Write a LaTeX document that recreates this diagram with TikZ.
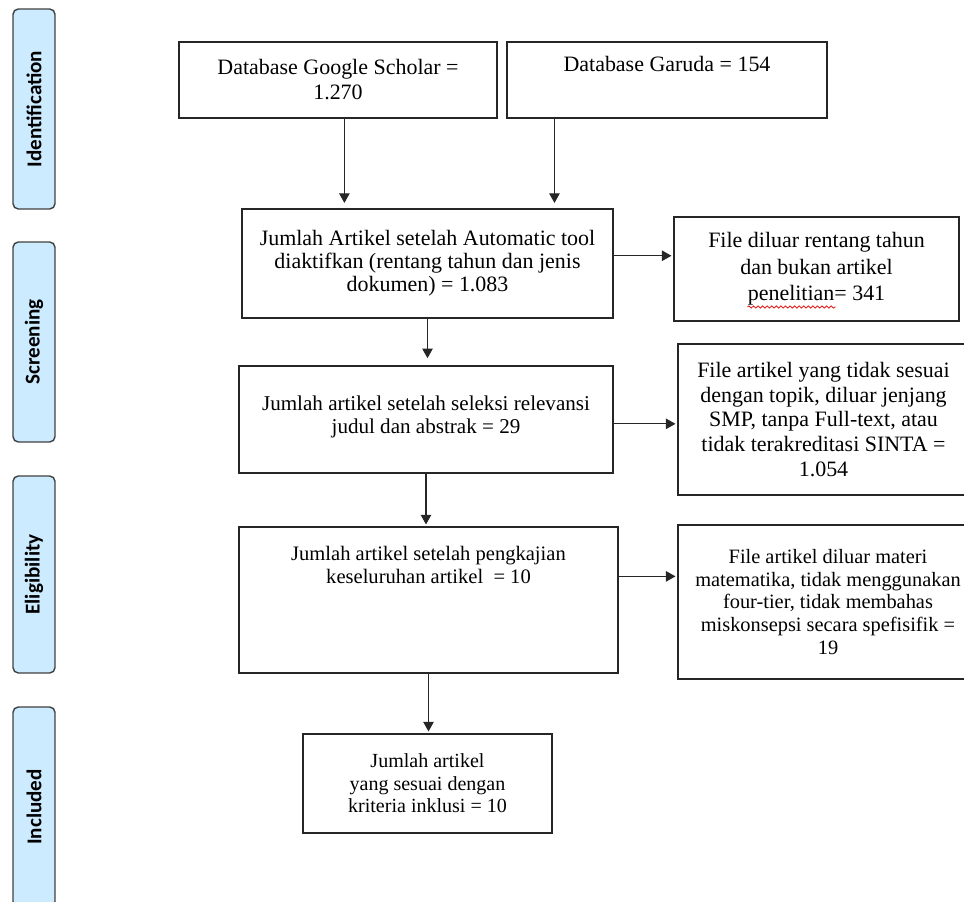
\documentclass[tikz,border=0pt]{standalone}
\usepackage{fontspec}
\setmainfont{Liberation Serif}
\newfontfamily\phasefont{Carlito}
\usetikzlibrary{arrows.meta,positioning,calc,decorations.pathmorphing}
\definecolor{phaseblue}{RGB}{204,235,255}
\definecolor{phaseline}{RGB}{64,64,64}
\definecolor{spellred}{RGB}{225,30,30}
\newcommand{\fsz}[2]{\fontsize{#1}{#2}\selectfont}

\begin{document}
\begin{tikzpicture}[x=0.02cm, y=-0.02cm,
  phase/.style={draw=phaseline, fill=phaseblue, rounded corners=3pt, line width=0.8pt, rotate=90, minimum height=0.84cm, font=\phasefont\bfseries\fsz{12}{14}},
  box/.style={draw=black!85, line width=0.9pt, align=center, inner sep=0pt},
  txt/.style={align=center, inner sep=0pt},
  arr/.style={-{Triangle[length=5.5pt,width=6pt]}, line width=0.6pt, black!85, shorten >=1pt},
  spell/.style={spellred, line width=0.5pt, decorate, decoration={snake, amplitude=0.6pt, segment length=2.6pt}}]
  \useasboundingbox (0,0) rectangle (964,902);
  \clip (0,0) rectangle (964,902);

  %--- Phase labels ---
  \node[phase, minimum width=4cm] (ident) at (34,109) {Identification};
  \node[phase, minimum width=4cm] (screen) at (34,342) {Screening};
  \node[phase, minimum width=3.94cm] (elig) at (34,574.5) {Eligibility};
  \node[phase, minimum width=4cm] (incl) at (34,807) {Included};

  %--- Identification ---
  \node[box, minimum width=6.36cm, minimum height=1.52cm, font=\fsz{12.5}{14.2}] (gs) at (338,80) {Database Google Scholar =\\1.270};
  \node[box, minimum width=6.4cm, minimum height=1.52cm, font=\fsz{12.5}{14.2}] (garuda) at (667,80) {Database Garuda = 154\\\strut};

  %--- Screening ---
  \node[box, minimum width=7.42cm, minimum height=2.18cm, font=\fsz{12.5}{13}] (auto) at (427.5,263.5) {Jumlah Artikel setelah Automatic tool\\diaktifkan (rentang tahun dan jenis\\dokumen) = 1.083};
  \node[box, minimum width=5.7cm, minimum height=2.08cm, font=\fsz{12.5}{15}] (autoex) at (816.5,269) {File diluar rentang tahun\\dan bukan artikel\\penelitian= 341};
  \draw[spell] ($(autoex.center)+(-69,38)$) -- ++(88,0);

  \node[box, minimum width=7.48cm, minimum height=2.14cm] (relev) at (426,419.5) {};
  \node[txt, anchor=north, font=\fsz{12}{13.5}] (relevtxt) at ($(relev.north)+(0,30)$) {Jumlah artikel setelah seleksi relevansi\\judul dan abstrak = 29};
  \node[box, minimum width=5.82cm, minimum height=3.02cm, font=\fsz{12.5}{14.2}] (relevex) at (823.5,419.5) {File artikel yang tidak sesuai\\dengan topik, diluar jenjang\\SMP, tanpa Full-text, atau\\tidak terakreditasi SINTA =\\1.054};

  %--- Eligibility ---
  \node[box, minimum width=7.58cm, minimum height=2.92cm] (review) at (428.5,600) {};
  \node[txt, anchor=north, font=\fsz{11.7}{13}] (reviewtxt) at ($(review.north)+(0,20)$) {Jumlah artikel setelah pengkajian\\keseluruhan artikel\ \ = 10};
  \node[box, minimum width=6cm, minimum height=3.08cm, font=\fsz{11.6}{13}] (reviewex) at (828,602) {File artikel diluar materi\\matematika, tidak menggunakan\\four-tier, tidak membahas\\miskonsepsi secara spefisifik =\\19};

  %--- Included ---
  \node[box, minimum width=4.98cm, minimum height=1.98cm, font=\fsz{11.4}{12.8}] (final) at (427.5,783.5) {Jumlah artikel\\yang sesuai dengan\\kriteria inklusi = 10};

  % arrows
  \coordinate (gsout) at ($(gs.south west)!0.52!(gs.south east)$);
  \coordinate (garudaout) at ($(garuda.south west)!0.15!(garuda.south east)$);
  \draw[arr, shorten >=3pt] (gsout) -- (gsout |- auto.north);
  \draw[arr, shorten >=3pt] (garudaout) -- (garudaout |- auto.north);

  \coordinate (autoout) at ($(auto.north east)!0.43!(auto.south east)$);
  \coordinate (relevout) at ($(relev.north east)!0.54!(relev.south east)$);
  \coordinate (reviewout) at ($(review.north east)!0.34!(review.south east)$);
  \draw[arr] (autoout) -- (autoout -| autoex.west);
  \draw[arr] (relevout) -- (relevout -| relevex.west);
  \draw[arr] (reviewout) -- (reviewout -| reviewex.west);

  \draw[arr, shorten >=4pt] (auto.south) -- (auto.south |- relev.north);
  \draw[arr] (relev.south) -- (relev.south |- review.north);
  \draw[arr] (review.south) -- (review.south |- final.north);
\end{tikzpicture}
\end{document}
